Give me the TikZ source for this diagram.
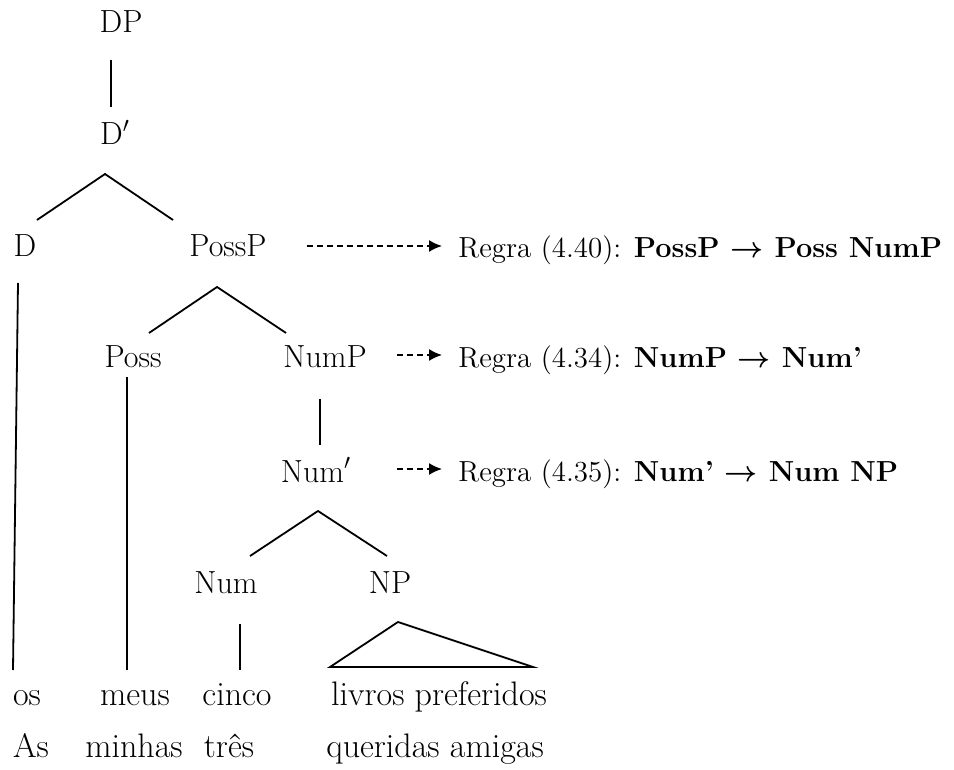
\documentclass[tikz,border=0pt]{standalone}
\usepackage{bm}
\usetikzlibrary{arrows.meta}
\tikzset{
  cat/.style={anchor=base, inner sep=0pt, font=\fontsize{16}{19}\selectfont},
  word/.style={anchor=base, inner sep=0pt, font=\fontsize{17}{20}\selectfont},
  rulebox/.style={anchor=base west, inner sep=0pt, font=\fontsize{14.5}{17}\selectfont},
  branch/.style={line width=0.9pt},
  rulearrow/.style={line width=0.75pt, dash pattern=on 3pt off 2pt, -{Latex[length=6.5pt,width=6pt]}, shorten >=8pt}
}
\begin{document}
\begin{tikzpicture}[x=0.5pt,y=-0.5pt]
\useasboundingbox (0,0) rectangle (954,770);
% categories
\node[cat] (dp) at (121,33) {DP};
\node[cat] (dbar) at (115,145) {D$'$};
\node[cat] (d) at (25,257) {D};
\node[cat] (possp) at (228,257) {PossP};
\node[cat] (poss) at (133,368) {Poss};
\node[cat] (nump) at (325,368) {NumP};
\node[cat] (numbar) at (316,482) {Num$'$};
\node[cat] (num) at (226,593) {Num};
\node[cat] (np) at (390,593) {NP};
% words
\node[word] (os) at (27,705) {os};
\node[word] (meus) at (135,705) {meus};
\node[word] (cinco) at (237,705) {cinco};
\node[word] (livros) at (439,705) {livros preferidos};
\node[word] (as) at (31,757) {As};
\node[word] (minhas) at (134,757) {minhas};
\node[word] (tres) at (229,757) {três};
\node[word] (queridas) at (435,757) {queridas amigas};
% rules
\node[rulebox] (rule1) at (458,258) {Regra (4.40): \textbf{PossP $\bm{\rightarrow}$ Poss NumP}};
\node[rulebox] (rule2) at (458,368) {Regra (4.34): \textbf{NumP $\bm{\rightarrow}$ Num’}};
\node[rulebox] (rule3) at (458,481) {Regra (4.35): \textbf{Num’ $\bm{\rightarrow}$ Num NP}};
% branch points
\coordinate (dp-b) at (111,60);
\coordinate (dbar-t) at (111,107);
\coordinate (dbar-fork) at (105,174);
\coordinate (d-t) at (37,220);
\coordinate (possp-t) at (173,220);
\coordinate (possp-fork) at (217,287);
\coordinate (poss-t) at (149,333);
\coordinate (nump-t) at (286,333);
\coordinate (nump-b) at (320,399);
\coordinate (numbar-t) at (320,445);
\coordinate (numbar-fork) at (318,511);
\coordinate (num-t) at (250,556);
\coordinate (np-t) at (387,556);
\coordinate (d-b) at (18,283);
\coordinate (os-t) at (13,670);
\coordinate (poss-b) at (127,377);
\coordinate (meus-t) at (127,670);
\coordinate (num-b) at (240,624);
\coordinate (cinco-t) at (240,670);
\coordinate (np-apex) at (398,622);
\coordinate (np-left) at (330,667);
\coordinate (np-right) at (533,667);
% tree lines
\draw[branch] (dp-b) -- (dbar-t);
\draw[branch] (d-t) -- (dbar-fork) -- (possp-t);
\draw[branch] (poss-t) -- (possp-fork) -- (nump-t);
\draw[branch] (nump-b) -- (numbar-t);
\draw[branch] (num-t) -- (numbar-fork) -- (np-t);
\draw[branch] (d-b) -- (os-t);
\draw[branch] (poss-b) -- (meus-t);
\draw[branch] (num-b) -- (cinco-t);
\draw[branch] (np-apex) -- (np-left) -- (np-right) -- cycle;
% rule arrows
\coordinate (arr1) at (307,246);
\coordinate (arr2) at (397,355);
\coordinate (arr3) at (397,469);
\draw[rulearrow] (arr1) -- (arr1 -| rule1.west);
\draw[rulearrow] (arr2) -- (arr2 -| rule2.west);
\draw[rulearrow] (arr3) -- (arr3 -| rule3.west);
\end{tikzpicture}
\end{document}
